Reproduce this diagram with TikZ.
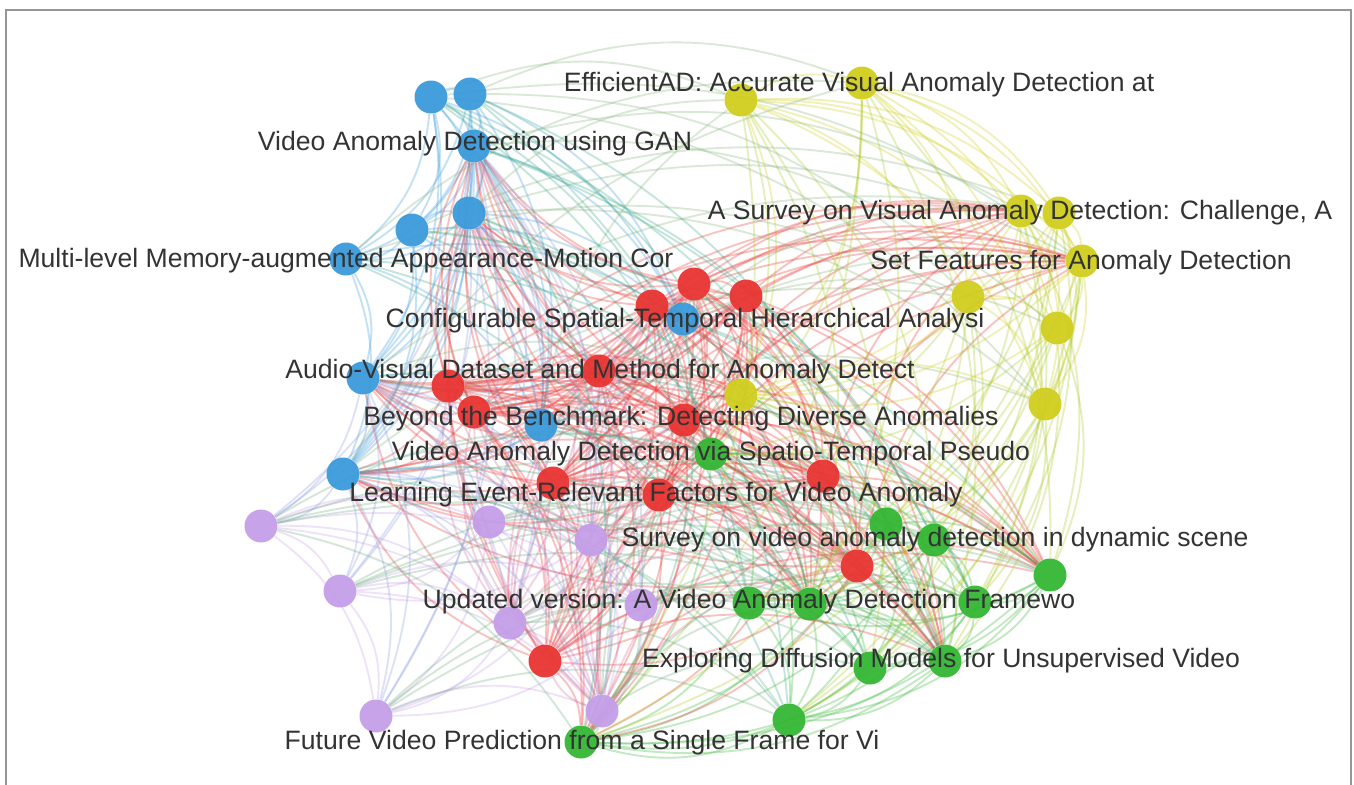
\documentclass[tikz,border=0pt]{standalone}
\usepackage{fontspec}
\setmainfont{Liberation Sans}
\definecolor{cb}{RGB}{58,154,218}
\definecolor{cr}{RGB}{232,52,50}
\definecolor{cy}{RGB}{208,206,30}
\definecolor{cg}{RGB}{52,182,52}
\definecolor{cp}{RGB}{196,158,232}
\definecolor{txt}{RGB}{51,51,51}
\definecolor{frm}{RGB}{150,150,150}
\pgfdeclarelayer{edges}
\pgfdeclarelayer{labels}
\pgfsetlayers{edges,main,labels}
\tikzset{
  dot/.style={circle,minimum size=16.5pt,inner sep=0pt,fill opacity=0.95},
  db/.style={dot,fill=cb},
  dr/.style={dot,fill=cr},
  dy/.style={dot,fill=cy},
  dg/.style={dot,fill=cg},
  dp/.style={dot,fill=cp},
  ed/.style={line width=0.95pt,opacity=0.3,bend left=22},
  lab/.style={text=txt,font=\fontsize{13.3}{15}\selectfont,inner sep=0pt,anchor=base},
  frame/.style={draw=frm,line width=0.6pt}
}
\newcommand{\clique}[4]{%
  \foreach \i in {1,...,#2}{%
    \pgfmathtruncatemacro\s{\i+1}%
    \foreach \j in {\s,...,#3}{\draw[ed,#4] (#1\i) to (#1\j);}%
  }%
}
\begin{document}
\begin{tikzpicture}[x=0.5pt,y=-0.5pt]
\useasboundingbox (0,0) rectangle (1354,784);
\draw[frame] (6,790) -- (6,10) -- (1351,10) -- (1351,790);
% blue
\node[db] (b1) at (431,97) {};
\node[db] (b2) at (470,94) {};
\node[db] (b3) at (474,146) {};
\node[db] (b4) at (412,230) {};
\node[db] (b5) at (469,213) {};
\node[db] (b6) at (346,259) {};
\node[db] (b7) at (683,319) {};
\node[db] (b8) at (363,378) {};
\node[db] (b9) at (541,425) {};
\node[db] (b10) at (343,474) {};
% red
\node[dr] (r1) at (694,284) {};
\node[dr] (r2) at (746,296) {};
\node[dr] (r3) at (652,306) {};
\node[dr] (r4) at (599,371) {};
\node[dr] (r5) at (448,386) {};
\node[dr] (r6) at (474,412) {};
\node[dr] (r7) at (684,420) {};
\node[dr] (r8) at (553,483) {};
\node[dr] (r9) at (823,476) {};
\node[dr] (r10) at (659,495) {};
\node[dr] (r11) at (857,566) {};
\node[dr] (r12) at (545,661) {};
% yellow
\node[dy] (y1) at (741,100) {};
\node[dy] (y2) at (862,83) {};
\node[dy] (y3) at (1021,211) {};
\node[dy] (y4) at (1059,213) {};
\node[dy] (y5) at (1082,261) {};
\node[dy] (y6) at (968,297) {};
\node[dy] (y7) at (1057,328) {};
\node[dy] (y8) at (741,395) {};
\node[dy] (y9) at (1045,404) {};
% green
\node[dg] (g1) at (711,454) {};
\node[dg] (g2) at (886,524) {};
\node[dg] (g3) at (934,540) {};
\node[dg] (g4) at (1050,575) {};
\node[dg] (g5) at (749,603) {};
\node[dg] (g6) at (810,604) {};
\node[dg] (g7) at (975,602) {};
\node[dg] (g8) at (870,668) {};
\node[dg] (g9) at (945,661) {};
\node[dg] (g10) at (789,720) {};
\node[dg] (g11) at (581,742) {};
% purple
\node[dp] (p1) at (261,526) {};
\node[dp] (p2) at (489,522) {};
\node[dp] (p3) at (591,540) {};
\node[dp] (p4) at (340,591) {};
\node[dp] (p5) at (510,623) {};
\node[dp] (p6) at (641,605) {};
\node[dp] (p7) at (376,716) {};
\node[dp] (p8) at (602,711) {};

\begin{pgfonlayer}{edges}
\clique{b}{9}{10}{cb}
\clique{r}{11}{12}{cr}
\clique{y}{8}{9}{cy}
\clique{g}{10}{11}{cg}
\clique{p}{7}{8}{cp}
\def\notred{b1,b2,b3,b4,b5,b6,b7,b8,b9,b10,y1,y2,y3,y4,y5,y6,y7,y8,y9,g1,g2,g3,g4,g5,g6,g7,g8,g9,g10,g11,p1,p2,p3,p4,p5,p6,p7,p8}
\foreach \i in {1,...,12}{
  \foreach \n [count=\k] in \notred {
    \pgfmathtruncatemacro\m{mod(\i*5+\k*2,5)}
    \ifnum\m<2
      \ifnum\k>30 \draw[ed,cp!55!cr] (\n) to (r\i);
      \else \draw[ed,cr] (r\i) to (\n);\fi
    \fi
  }
}
\foreach \i in {1,...,9}{
  \foreach \j in {1,...,11}{
    \pgfmathtruncatemacro\m{mod(\i*4+\j*7,5)}
    \ifnum\m<2 \draw[ed,cy!75!cg] (y\i) to (g\j);\fi
  }
}
\foreach \i in {1,...,10}{
  \foreach \j in {1,...,8}{
    \pgfmathtruncatemacro\m{mod(\i*2+\j*5,5)}
    \ifnum\m<2 \draw[ed,cp!60!cb] (b\i) to (p\j);\fi
  }
}
\foreach \i in {1,...,8}{
  \foreach \j in {1,...,11}{
    \pgfmathtruncatemacro\m{mod(\i*3+\j*2,5)}
    \ifnum\m<2 \draw[ed,cg!60!cp] (p\i) to (g\j);\fi
  }
}
\foreach \i in {1,...,10}{
  \foreach \j in {1,...,9}{
    \pgfmathtruncatemacro\m{mod(\i*5+\j*3,4)}
    \ifnum\m=0 \draw[ed,cb!50!cy] (b\i) to (y\j);\fi
  }
}
\foreach \i in {1,...,10}{
  \foreach \j in {1,...,11}{
    \pgfmathtruncatemacro\m{mod(\i*3+\j*5,4)}
    \ifnum\m=0 \draw[ed,cb!50!cg] (b\i) to (g\j);\fi
  }
}
\end{pgfonlayer}

\begin{pgfonlayer}{labels}
\node[lab] (l1) at (859,91) {EfficientAD: Accurate Visual Anomaly Detection at};
\node[lab] (l2) at (475,150) {Video Anomaly Detection using GAN};
\node[lab] (l3) at (1020,219) {A Survey on Visual Anomaly Detection: Challenge, A};
\node[lab] (l4) at (346,267) {Multi-level Memory-augmented Appearance-Motion Cor};
\node[lab] (l5) at (1081,269) {Set Features for Anomaly Detection};
\node[lab] (l6) at (685,327) {Configurable Spatial-Temporal Hierarchical Analysi};
\node[lab] (l7) at (600,378) {Audio-Visual Dataset and Method for Anomaly Detect};
\node[lab] (l8) at (681,425) {Beyond the Benchmark: Detecting Diverse Anomalies};
\node[lab] (l9) at (711,460) {Video Anomaly Detection via Spatio-Temporal Pseudo};
\node[lab] (l10) at (656,501) {Learning Event-Relevant Factors for Video Anomaly};
\node[lab] (l11) at (935,546) {Survey on video anomaly detection in dynamic scene};
\node[lab] (l12) at (749,608) {Updated version: A Video Anomaly Detection Framewo};
\node[lab] (l13) at (941,667) {Exploring Diffusion Models for Unsupervised Video};
\node[lab] (l14) at (582,749) {Future Video Prediction from a Single Frame for Vi};
\end{pgfonlayer}
\end{tikzpicture}
\end{document}
